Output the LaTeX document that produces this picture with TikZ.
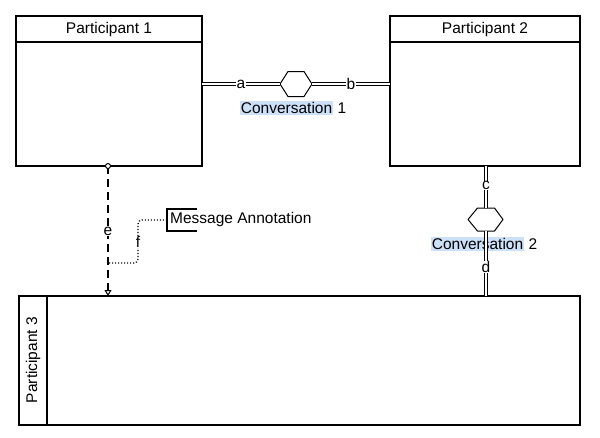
\documentclass[tikz,border=0pt]{standalone}
\usepackage{fontspec}
\setmainfont{Liberation Sans}
\usetikzlibrary{arrows.meta}
\definecolor{hl}{RGB}{204,224,248}
\begin{document}
\begin{tikzpicture}[x=1pt,y=-1pt,font=\fontsize{15.5}{17}\selectfont,
  pbox/.style={draw,line width=1.6pt},
  hexline/.style={line width=1pt,line join=round},
  dbl/.style={double,double distance=2pt,line width=0.8pt},
  lbl/.style={fill=white,inner sep=0.5pt},
  convlbl/.style={inner sep=0pt},
  dashedge/.style={line width=1.8pt,dash pattern=on 8pt off 5pt},
  dotedge/.style={line width=1.2pt,dash pattern=on 1.2pt off 1.8pt,rounded corners=4pt}]
\useasboundingbox (0,0) rectangle (600,437);
\setlength{\fboxsep}{1pt}
% participants
\draw[pbox] (16,16) rectangle (202,166);
\draw[pbox] (16,42) -- (202,42);
\node (t1) at (109,29) {Participant 1};
\draw[pbox] (390,16) rectangle (580,166);
\draw[pbox] (390,42) -- (580,42);
\node (t2) at (485,29) {Participant 2};
\draw[pbox] (19,296) rectangle (580,425);
\draw[pbox] (47,296) -- (47,425);
\node[rotate=90] (t3) at (33,360) {Participant 3};
% coordinates
\coordinate (p1r) at (202,84);
\coordinate (p2l) at (390,84);
\coordinate (p2b) at (486,166);
\coordinate (p3t) at (486,296);
\coordinate (p1b) at (108,166);
\coordinate (p3e) at (108,296);
\coordinate (fs) at (109,263);
\coordinate (ann) at (167,220);
% conversation 1
\coordinate (h1) at (296,84);
\coordinate (h1w) at (280,84);
\coordinate (h1e) at (312,84);
\draw[hexline] (h1w) -- ++(8,-12.5) -- ++(16,0) -- (h1e) -- ++(-8,12.5) -- ++(-16,0) -- cycle;
\draw[dbl] (p1r) -- node[lbl]{a} (h1w);
\draw[dbl] (h1e) -- node[lbl]{b} (p2l);
\node[convlbl] (c1) at (293,108) {\colorbox{hl}{Conversation}~1};
% conversation 2
\coordinate (h2n) at (486,208);
\coordinate (h2s) at (486,231);
\draw[hexline] (468,219.5) -- (477.5,208) -- (494.5,208) -- (503,219.5) -- (494.5,231) -- (477.5,231) -- cycle;
\node[convlbl] (c2) at (484,244) {\colorbox{hl}{Conversation}~2};
\draw[dbl] (p2b) -- node[lbl,pos=0.47]{c} (h2n);
\draw[dbl] (h2s) -- node[lbl,pos=0.55]{d} (p3t);
% message flow e
\draw[dashedge,-{Triangle[open,width=7pt,length=6pt,line width=1pt]}] (p1b) -- node[lbl,solid]{e} (p3e);
\draw[line width=1pt,fill=white] (p1b) circle (2.5pt);
% association f
\draw[dotedge] (fs) -- (138,263) -- (138,220) -- (ann);
\node[lbl] (fl) at (138,242) {f};
% annotation
\draw[line width=1.5pt] (197,209) -- (167,209) -- (167,231) -- (197,231);
\node[anchor=west,inner sep=1pt] (at) at (169,219) {Message Annotation};
\end{tikzpicture}
\end{document}
